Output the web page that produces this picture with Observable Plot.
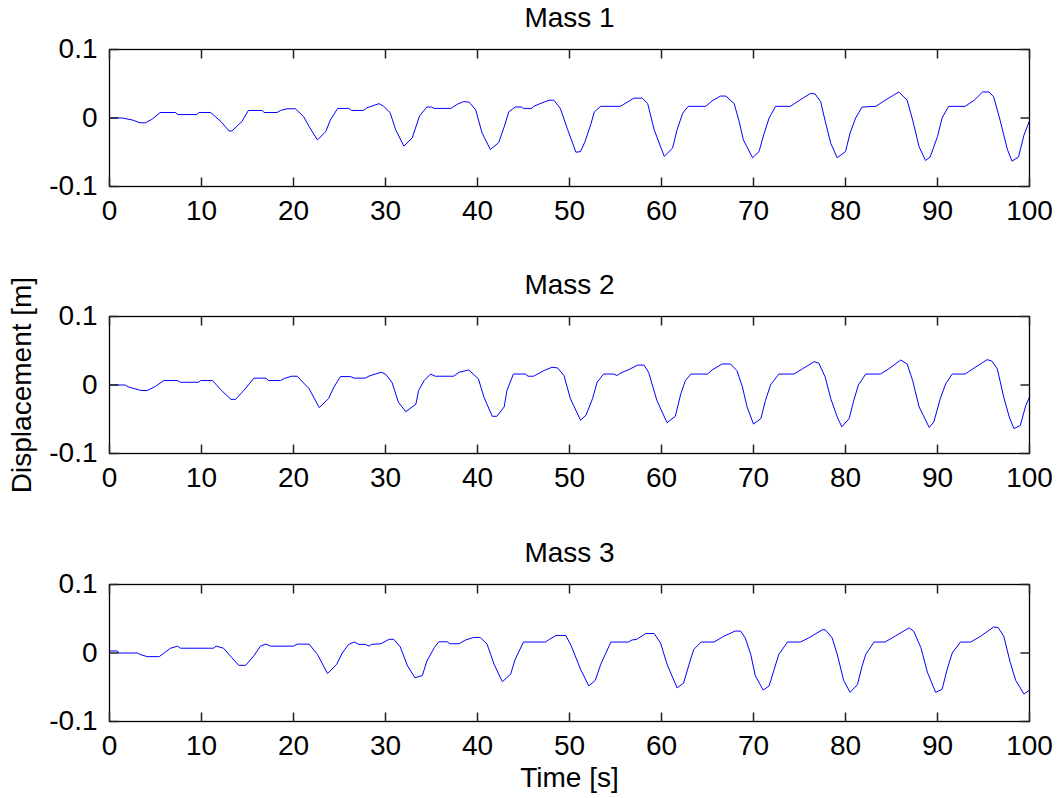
<!DOCTYPE html>
<html><head><meta charset="utf-8">
<script src="https://cdn.jsdelivr.net/npm/d3@7"></script>
<script src="https://cdn.jsdelivr.net/npm/@observablehq/plot@0.6"></script>
<style>
body{margin:0;background:#fff;}
#chart{position:relative;width:1057px;height:798px;background:#fff;font-family:"Liberation Sans",Arial,sans-serif;}
#chart svg{position:absolute;left:0;}
</style></head><body><div id="chart"></div>
<script>
const titles = ["Mass 1", "Mass 2", "Mass 3"];
const xLabel = "Time [s]";
const yLabel = "Displacement [m]";
const xTicks = [0, 10, 20, 30, 40, 50, 60, 70, 80, 90, 100];
const yTicks = [-0.1, 0, 0.1];

const time1 = [0,1.4,2.5,3.3,3.9,4.6,5.5,7.2,7.4,9.5,9.7,11.0,12.1,13.0,13.3,14.4,15.1,16.6,16.8,18.2,18.6,19.3,20.2,21.1,21.7,22.6,23.5,24.0,24.8,26.0,26.3,27.6,28.0,29.3,29.8,30.5,31.1,32.0,32.9,33.3,33.7,34.5,35.0,35.3,37.1,37.8,38.5,39.1,39.8,40.5,41.4,42.3,42.9,43.4,44.1,44.8,45.0,45.9,46.1,47.0,47.8,48.3,49.0,49.8,50.7,51.2,51.7,52.3,52.7,53.4,55.5,55.9,57.0,57.9,58.5,59.2,60.3,61.2,61.7,62.3,62.9,64.8,65.5,66.4,67.0,67.9,68.4,68.9,69.9,70.6,71.1,71.7,72.4,74.0,74.9,76.2,76.7,77.3,77.8,78.4,79.1,80.0,80.5,81.1,81.8,83.3,84.2,85.8,86.7,87.3,88.0,88.7,89.2,90.0,90.5,91.2,93.0,94.0,94.9,95.6,96.1,96.8,97.6,98.1,98.8,99.4,100];
const disp1 = [0,0,-0.003,-0.007,-0.007,-0.002,0.008,0.008,0.005,0.005,0.008,0.008,-0.005,-0.019,-0.019,-0.005,0.011,0.011,0.008,0.008,0.011,0.0135,0.0135,0.002,-0.0126,-0.032,-0.020,-0.003,0.014,0.014,0.011,0.011,0.015,0.021,0.017,0.008,-0.017,-0.041,-0.029,-0.013,0.003,0.016,0.016,0.014,0.014,0.020,0.024,0.023,0.012,-0.022,-0.046,-0.036,-0.013,0.009,0.016,0.016,0.014,0.014,0.017,0.022,0.026,0.026,0.014,-0.017,-0.050,-0.049,-0.034,-0.010,0.009,0.017,0.017,0.020,0.029,0.029,0.021,-0.017,-0.056,-0.044,-0.017,0.007,0.017,0.017,0.025,0.032,0.032,0.021,-0.003,-0.032,-0.058,-0.049,-0.025,0,0.017,0.017,0.025,0.036,0.035,0.024,-0.005,-0.037,-0.058,-0.049,-0.022,0,0.016,0.017,0.025,0.038,0.026,-0.003,-0.042,-0.062,-0.057,-0.027,0,0.017,0.017,0.026,0.038,0.038,0.031,-0.003,-0.046,-0.063,-0.057,-0.025,-0.004];

const time2 = [0,1.7,2.1,3.4,4.1,5.0,5.9,7.4,7.7,9.7,9.9,11.2,12.1,13.2,13.7,14.6,15.7,17.0,17.3,18.6,19.0,19.8,20.4,21.7,22.8,23.8,24.4,25.1,26.2,26.6,27.8,28.2,29.5,30.0,30.7,31.4,32.2,33.3,33.6,34.2,34.9,35.4,37.4,38.0,39.05,40.1,40.7,41.6,42.1,42.9,43.2,43.9,45.2,45.5,46.1,47.2,48.1,48.7,49.4,50.1,51.2,51.8,52.5,53.0,53.7,54.8,55.2,55.5,56.6,57.4,58.1,58.6,59.5,60.6,61.5,62.1,62.6,63.2,65.0,65.5,66.6,67.5,68.2,68.8,69.3,70.0,70.8,71.3,71.85,72.75,74.4,75.3,76.6,77.1,77.8,78.4,79.1,79.6,80.4,80.9,81.4,82.2,83.8,84.7,86.0,86.7,87.3,88.0,89.1,89.6,90.3,90.9,91.6,93.0,94.1,95.4,95.9,96.5,97.2,97.8,98.3,99.0,99.6,100];
const disp2 = [0,0,-0.003,-0.008,-0.008,-0.002,0.0065,0.0065,0.004,0.004,0.0065,0.0065,-0.007,-0.021,-0.021,-0.008,0.010,0.010,0.0065,0.0065,0.0095,0.0128,0.0128,-0.0055,-0.033,-0.020,-0.003,0.0123,0.0123,0.010,0.010,0.013,0.0186,0.016,0.004,-0.025,-0.039,-0.028,-0.008,0.0065,0.016,0.0128,0.0128,0.0186,0.022,0.009,-0.0177,-0.0457,-0.0457,-0.032,-0.008,0.016,0.016,0.0128,0.0128,0.021,0.0258,0.025,0.0138,-0.020,-0.0514,-0.044,-0.020,0.004,0.016,0.016,0.0138,0.017,0.0235,0.029,0.029,0.0186,-0.0225,-0.055,-0.0457,-0.0128,0.0065,0.016,0.016,0.022,0.0307,0.0307,0.021,-0.003,-0.032,-0.057,-0.049,-0.0225,0,0.016,0.016,0.0235,0.034,0.032,0.0113,-0.020,-0.0467,-0.061,-0.049,-0.0225,0,0.016,0.016,0.0235,0.0365,0.0307,0.0065,-0.032,-0.062,-0.054,-0.020,0.002,0.016,0.016,0.0258,0.037,0.035,0.0235,-0.0177,-0.0467,-0.0636,-0.059,-0.0297,-0.0177];

const time3 = [0,0.85,1.0,3.0,3.4,4.1,5.4,5.9,6.6,7.4,7.7,11.3,11.6,12.4,13.3,14.05,14.8,15.7,16.4,17.0,17.5,20.0,20.4,21.7,22.6,23.7,24.7,25.3,26.0,26.6,27.1,27.8,28.2,28.5,29.5,30.4,30.9,31.6,32.4,33.2,34.0,34.5,35.3,35.8,36.7,37.0,38.0,38.7,39.6,40.3,41.05,41.8,42.7,43.6,44.1,45.0,47.4,47.7,48.55,49.6,50.2,51.2,52.1,52.8,53.4,54.5,56.4,56.8,57.3,58.3,59.2,59.9,60.6,61.7,62.4,63.0,63.5,64.3,65.7,66.8,68.0,68.6,69.1,69.7,70.2,71.05,71.7,72.2,72.75,73.7,75.1,76.0,77.5,77.8,78.55,79.1,79.8,80.5,81.3,81.8,82.2,83.1,84.3,85.4,86.9,87.4,88.2,88.9,89.8,90.5,91.05,91.6,92.5,93.6,94.7,96.1,96.6,97.2,97.9,98.5,99.4,100];
const disp3 = [0.003,0.003,0,0,-0.0025,-0.0053,-0.0053,-0.0005,0.0068,0.010,0.007,0.007,0.010,0.007,-0.007,-0.018,-0.018,-0.004,0.010,0.013,0.010,0.010,0.013,0.013,-0.002,-0.030,-0.0164,0,0.0126,0.016,0.0126,0.0126,0.010,0.0126,0.0135,0.020,0.020,0.009,-0.019,-0.036,-0.033,-0.0116,0.0077,0.0164,0.0164,0.0135,0.0135,0.019,0.0227,0.0227,0.0126,-0.0164,-0.042,-0.031,-0.009,0.016,0.016,0.019,0.0256,0.0256,0.010,-0.0237,-0.048,-0.040,-0.0164,0.016,0.016,0.019,0.020,0.0285,0.0285,0.0145,-0.0164,-0.051,-0.044,-0.0164,0.005,0.016,0.016,0.0246,0.032,0.032,0.022,-0.002,-0.0333,-0.054,-0.048,-0.026,-0.002,0.016,0.016,0.022,0.034,0.034,0.022,-0.002,-0.040,-0.0575,-0.046,-0.0193,-0.002,0.016,0.016,0.0246,0.0367,0.032,0.0077,-0.028,-0.0575,-0.053,-0.0237,0,0.016,0.016,0.0246,0.038,0.037,0.0246,-0.0135,-0.040,-0.060,-0.054];

const series = [[time1, disp1], [time2, disp2], [time3, disp3]];
const font = "'Liberation Sans', Arial, sans-serif";
const chart = document.getElementById("chart");
const W = 1057, ML = 109, MR = 28, MT = 45, H = 137;
const tops = [4, 271, 539];
const TICK = 9; // inward tick length in pixels
const frameW = W - ML - MR;
const xLen = 100 * TICK / frameW;
const yLen = 0.2 * TICK / H;

series.forEach(([t, v], i) => {
  const data = t.map((x, k) => ({t: x, v: v[k]}));
  const tickRows = [
    ...xTicks.map(x => ({x1: x, x2: x, y1: -0.1, y2: -0.1 + yLen})),
    ...xTicks.map(x => ({x1: x, x2: x, y1: 0.1, y2: 0.1 - yLen})),
    ...yTicks.map(y => ({y1: y, y2: y, x1: 0, x2: xLen})),
    ...yTicks.map(y => ({y1: y, y2: y, x1: 100, x2: 100 - xLen}))
  ];
  const mb = i === 2 ? 77 : 40;
  const marks = [
    Plot.axisX(xTicks, {tickSize: 0, tickPadding: 14, label: null, fontSize: 28, tickFormat: d => String(d)}),
    Plot.axisY(yTicks, {tickSize: 0, tickPadding: 12, label: null, fontSize: 28, tickFormat: d => String(d)}),
    Plot.line(data, {x: "t", y: "v", stroke: "#0000ff", strokeWidth: 1}),
    Plot.frame({stroke: "#000", strokeWidth: 1.3}),
    Plot.link(tickRows, {x1: "x1", y1: "y1", x2: "x2", y2: "y2", stroke: "#222", strokeWidth: 1.5}),
    Plot.text([titles[i]], {frameAnchor: "top", dy: -31, lineAnchor: "middle", fontSize: 28, fill: "#000"})
  ];
  if (i === 1) marks.push(Plot.text([yLabel], {frameAnchor: "left", dx: -87, rotate: -90, lineAnchor: "middle", textAnchor: "middle", fontSize: 28, fill: "#000"}));
  if (i === 2) marks.push(Plot.text([xLabel], {frameAnchor: "bottom", dy: 57, lineAnchor: "middle", fontSize: 28, fill: "#000"}));
  const p = Plot.plot({
    width: W, height: MT + H + mb,
    marginTop: MT, marginBottom: mb, marginLeft: ML, marginRight: MR,
    style: {fontFamily: font, fontSize: "28px", color: "#000", background: "transparent", overflow: "visible"},
    x: {domain: [0, 100]},
    y: {domain: [-0.1, 0.1]},
    marks
  });
  p.style.top = tops[i] + "px";
  chart.appendChild(p);
});
</script></body></html>
